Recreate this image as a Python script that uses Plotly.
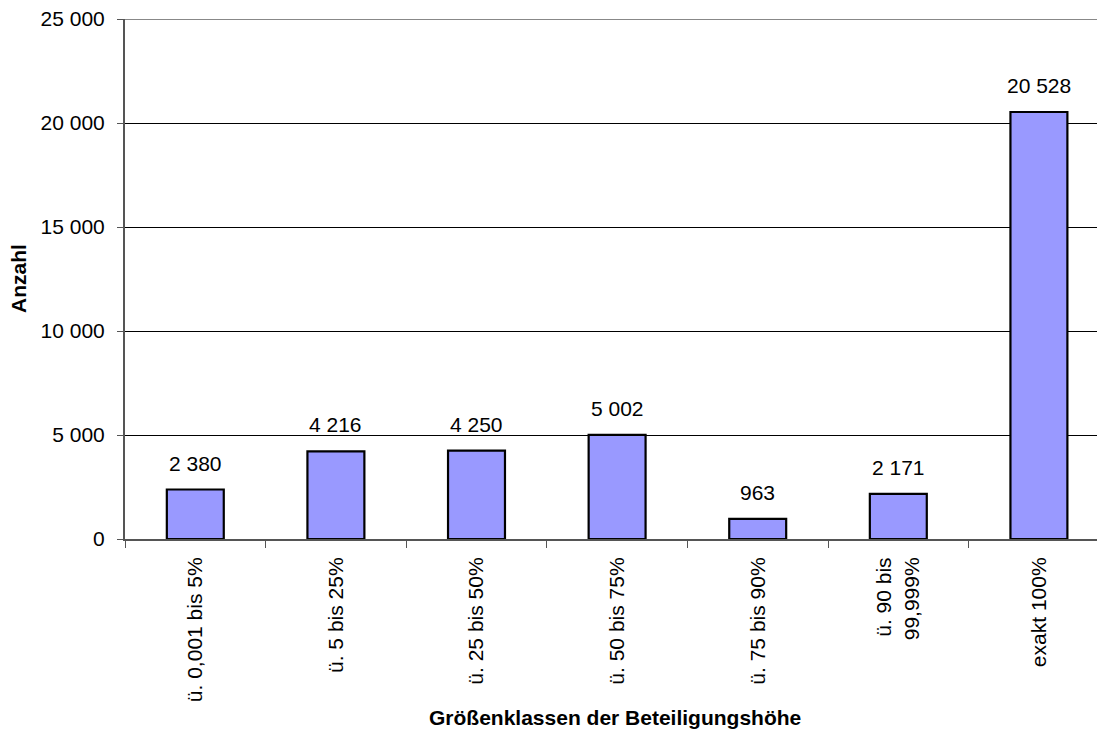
import plotly.graph_objects as go

categories = ["ü. 0,001 bis 5%", "ü. 5 bis 25%", "ü. 25 bis 50%", "ü. 50 bis 75%",
              "ü. 75 bis 90%", "ü. 90 bis<br>99,999%", "exakt 100%"]
values = [2380, 4216, 4250, 5002, 963, 2171, 20528]
labels = ["2 380", "4 216", "4 250", "5 002", "963", "2 171", "20 528"]

FONT = "Liberation Sans, Arial, sans-serif"
FS = 21

fig = go.Figure()
fig.add_trace(go.Bar(
    x=categories, y=values, width=0.405,
    marker=dict(color="#9999FF", line=dict(color="black", width=2.2)),
    hoverinfo="x+y",
))

for c, v, t in zip(categories, values, labels):
    fig.add_annotation(x=c, y=v, text=t, showarrow=False, yanchor="bottom",
                       yshift=13, font=dict(family=FONT, size=FS, color="black"))

fig.add_shape(type="line", xref="paper", x0=0, x1=1, yref="y", y0=25000, y1=25000,
              line=dict(color="#888888", width=2))

fig.add_annotation(xref="paper", yref="paper", x=(18 - 125) / 980, y=0.5,
                   text="<b>Anzahl</b>", textangle=-90, showarrow=False,
                   xanchor="center", yanchor="middle",
                   font=dict(family=FONT, size=FS, color="black"))
fig.add_annotation(xref="paper", yref="paper", x=(615 - 125) / 980, y=(539 - 717) / 520,
                   text="<b>Größenklassen der Beteiligungshöhe</b>", showarrow=False,
                   xanchor="center", yanchor="middle",
                   font=dict(family=FONT, size=FS, color="black"))

fig.update_layout(
    width=1097, height=730,
    margin=dict(l=117, r=0, t=11, b=199),
    paper_bgcolor="white", plot_bgcolor="white",
    separators=", ",
    showlegend=False,
    font=dict(family=FONT, size=FS, color="black"),
    xaxis=dict(
        range=[-0.5, 6.47], tickangle=-90, tickson="boundaries", automargin=False,
        ticks="outside", ticklen=7, tickcolor="#555555", tickwidth=1,
        ticklabelstandoff=8,
        showline=True, linecolor="#555555", linewidth=2,
        showgrid=False,
        tickfont=dict(family=FONT, size=FS),
    ),
    yaxis=dict(
        range=[0, 25000], dtick=5000, tickformat=",d", automargin=False,
        ticks="outside", ticklen=6, tickcolor="#555555",
        ticklabelstandoff=8, ticklabeloverflow="allow",
        showline=True, linecolor="#555555", linewidth=2,
        showgrid=True, gridcolor="black", gridwidth=1, zeroline=False,
        tickfont=dict(family=FONT, size=FS),
    ),
)

fig.write_html("out.html")
